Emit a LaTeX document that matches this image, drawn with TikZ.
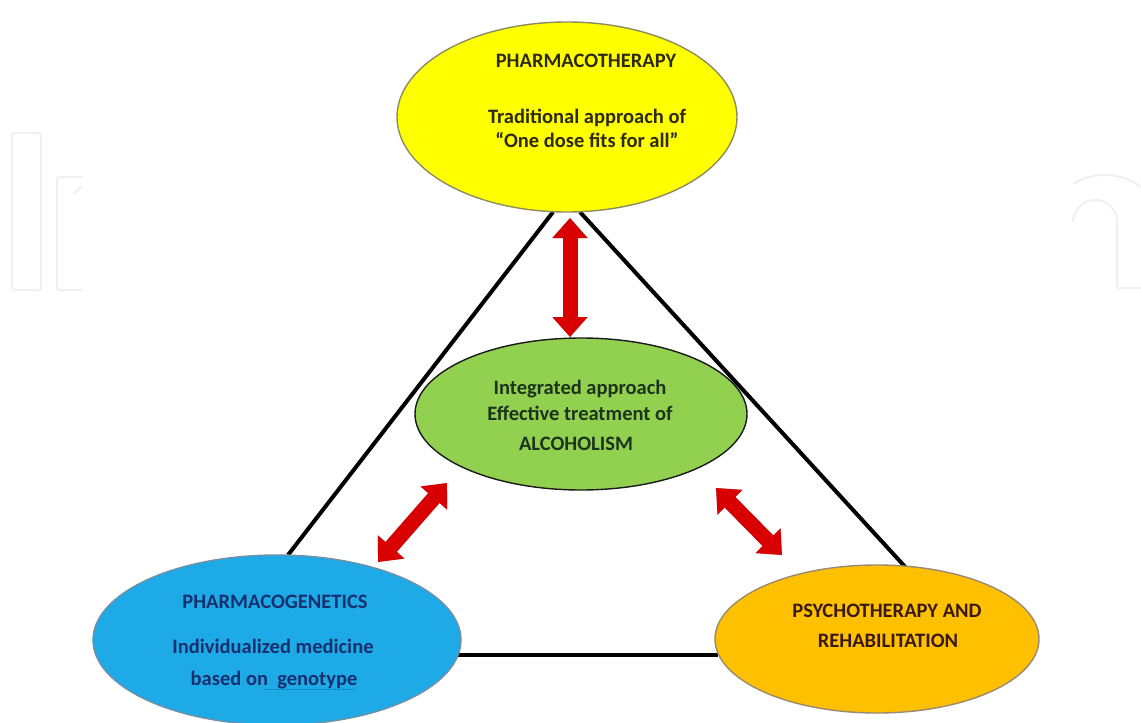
\documentclass[tikz,border=0pt]{standalone}
\usepackage{fontspec}
\setmainfont{Carlito}
\usetikzlibrary{arrows.meta,shapes.geometric}
\definecolor{cyel}{HTML}{FFFF00}
\definecolor{cyelb}{HTML}{8C8C60}
\definecolor{cgrn}{HTML}{92D050}
\definecolor{cgrnb}{HTML}{1A1A1A}
\definecolor{cblu}{HTML}{1EAAE6}
\definecolor{cblub}{HTML}{7090A8}
\definecolor{corg}{HTML}{FFC000}
\definecolor{corgb}{HTML}{9A8A70}
\definecolor{cred}{HTML}{D80000}
\definecolor{tyel}{HTML}{2E2A10}
\definecolor{tgrn}{HTML}{1C331C}
\definecolor{tblu}{HTML}{15306E}
\definecolor{torg}{HTML}{3A1A10}
\definecolor{wmark}{HTML}{F0F0F0}
\begin{document}
\begin{tikzpicture}[x=1pt,y=-1pt,
  oval/.style={ellipse,draw,line width=1.4pt,inner sep=0pt,outer sep=0pt},
  lbl/.style={font=\fontsize{20.5}{24}\selectfont\bfseries,anchor=base,inner sep=0pt},
  tri/.style={line width=4pt,black},
  twoway/.style={line width=15pt,cred,{Triangle[width=34pt,length=20pt]}-{Triangle[width=34pt,length=20pt]}},
  twowayshadow/.style={line width=15pt,black!40,{Triangle[width=34pt,length=20pt]}-{Triangle[width=34pt,length=20pt]}},
  wm/.style={line width=2pt,wmark,rounded corners=2pt}]
\useasboundingbox (0,0) rectangle (1141,723);
\fill[white] (0,0) rectangle (1141,723);
% watermark
\draw[wm] (12,133) rectangle (41,290);
\draw[wm] (82,177) -- (57,177) -- (57,290) -- (82,290);
\draw[wm,line cap=round] (74,194) -- (82,186);
\draw[wm] (1073,184) arc[start angle=122,end angle=53,radius=60pt];
\draw[wm] (1073,222) arc[start angle=180,end angle=0,radius=22pt] -- (1117,288) -- (1141,288);
% triangle connector ends
\coordinate (l1) at (553,212);
\coordinate (l2) at (288,555);
\coordinate (r1) at (580,212);
\coordinate (r2) at (908,570);
\coordinate (b1) at (455,655);
\coordinate (b2) at (718,655);
\draw[tri] (l1) -- (l2);
\draw[tri] (r1) -- (r2);
\draw[tri] (b1) -- (b2);
% ellipses
\node[oval,fill=cyel,draw=cyelb,minimum width=340pt,minimum height=190pt] (pharm) at (567,117) {};
\node[oval,fill=cgrn,draw=cgrnb,minimum width=332pt,minimum height=152pt] (integ) at (581,414) {};
\node[oval,fill=cblu,draw=cblub,minimum width=368pt,minimum height=170pt] (genet) at (277,640) {};
\node[oval,fill=corg,draw=corgb,minimum width=324pt,minimum height=148pt] (psych) at (877,639) {};
% arrows
\coordinate (v1) at (570,218);
\coordinate (v2) at (570,337);
\coordinate (d1) at (378,562);
\coordinate (d2) at (447,483);
\coordinate (e1) at (716,488);
\coordinate (e2) at (782,555);
\begin{scope}[shift={(2,2)}]
\draw[twowayshadow] (v1) -- (v2);
\draw[twowayshadow] (d1) -- (d2);
\draw[twowayshadow] (e1) -- (e2);
\end{scope}
\draw[twoway] (v1) -- (v2);
\draw[twoway] (d1) -- (d2);
\draw[twoway] (e1) -- (e2);
% texts
\node[lbl,text=tyel] (pt1) at (586,67) {PHARMACOTHERAPY};
\node[lbl,text=tyel] (pt2) at (587,123) {Traditional approach of};
\node[lbl,text=tyel] (pt3) at (587,147) {“One dose fits for all”};
\node[lbl,text=tgrn] (it1) at (580,394) {Integrated approach};
\node[lbl,text=tgrn] (it2) at (580,420) {Effective treatment of};
\node[lbl,text=tgrn] (it3) at (576,450) {ALCOHOLISM};
\node[lbl,text=tblu] (gt1) at (275,608) {PHARMACOGENETICS};
\node[lbl,text=tblu] (gt2) at (273,653) {Individualized medicine};
\node[lbl,text=tblu] (gt3) at (274,685) {based on\ \ genotype};
\draw[green!55!black,densely dotted,line width=1pt] (gt3.base east) ++(-92,4) -- ++(90,0);
\node[lbl,text=torg] (ps1) at (887,617) {PSYCHOTHERAPY AND};
\node[lbl,text=torg] (ps2) at (888,647) {REHABILITATION};
\end{tikzpicture}
\end{document}
